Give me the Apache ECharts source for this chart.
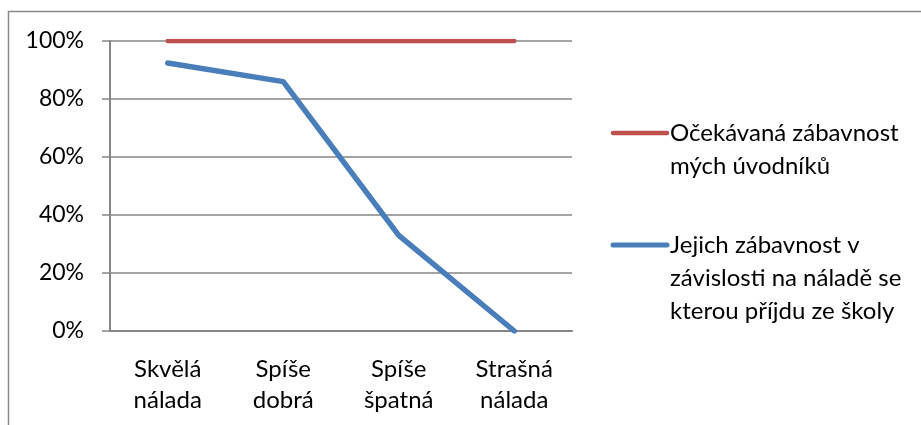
<!DOCTYPE html>
<html><head><meta charset="utf-8">
<script src="https://cdn.jsdelivr.net/npm/echarts@6/dist/echarts.min.js"></script>
<style>html,body{margin:0;padding:0;background:#fff}#c{width:921px;height:425px}</style>
</head><body><div id="c"></div>
<script>
const categories = ['Skvělá\nnálada', 'Spíše\ndobrá', 'Spíše\nšpatná', 'Strašná\nnálada'];
const expected = [100, 100, 100, 100];
const actual = [92.4, 86, 33, 0];
const seriesNames = ['Očekávaná zábavnost\nmých úvodníků', 'Jejich zábavnost v\nzávislosti na náladě se\nkterou příjdu ze školy'];
const colors = ['#C0504D', '#4A7EBB'];
const FONT = 'Lato';
const chart = echarts.init(document.getElementById('c'));
const legendY = [133, 245];
const graphics = [{
  type: 'rect', shape: {x: 8.5, y: 11.5, width: 930, height: 430},
  style: {fill: 'none', stroke: '#898989', lineWidth: 1.5}, silent: true
}];
seriesNames.forEach((n, i) => {
  graphics.push({type: 'line', shape: {x1: 613, y1: legendY[i], x2: 667, y2: legendY[i]},
    style: {stroke: colors[i], lineWidth: i ? 5 : 4.5, lineCap: 'round'}});
  graphics.push({type: 'text', x: 670, y: legendY[i] - 16.5,
    style: {text: n, fill: '#000', font: '24px ' + FONT, lineHeight: 33, verticalAlign: 'top'}});
});
chart.setOption({
  animation: false,
  grid: {left: 110, right: 349, top: 41, bottom: 94},
  xAxis: {
    type: 'category', data: categories, boundaryGap: true,
    axisLine: {lineStyle: {color: '#868686', width: 2}},
    axisTick: {length: 8, lineStyle: {color: '#868686', width: 1.5}},
    axisLabel: {color: '#000', fontFamily: FONT, fontSize: 24, lineHeight: 31, margin: 23}
  },
  yAxis: {
    type: 'value', min: 0, max: 100, interval: 20,
    axisLine: {show: true, lineStyle: {color: '#868686', width: 2}},
    axisTick: {show: true, length: 8, lineStyle: {color: '#868686', width: 1.5}},
    splitLine: {lineStyle: {color: '#868686', width: 1.5}},
    axisLabel: {color: '#000', fontFamily: FONT, fontSize: 23, margin: 26, formatter: '{value}%'}
  },
  series: [
    {name: seriesNames[0], type: 'line', data: expected, symbol: 'none',
     lineStyle: {color: colors[0], width: 4.5, cap: 'round'}, z: 3},
    {name: seriesNames[1], type: 'line', data: actual, symbol: 'none',
     lineStyle: {color: colors[1], width: 5.5, cap: 'round'}, z: 4}
  ],
  graphic: graphics
});
</script></body></html>
